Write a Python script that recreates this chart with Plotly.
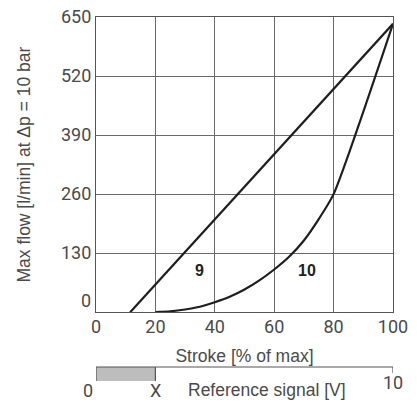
import plotly.graph_objects as go

# ---- data ----
stroke_9 = [11.5, 100]
flow_9 = [0, 635]

stroke_10 = [20, 25, 30, 35, 40, 45, 50, 55, 60, 65, 70, 75, 80, 100]
flow_10 = [0, 2, 6, 12, 22, 34, 50, 70, 94, 122, 158, 205, 260, 635]

x_ticks = [0, 20, 40, 60, 80, 100]
y_ticks = [130, 260, 390, 520, 650]

ref_signal_x = 2      # position of "X" on 0..10 V scale
ref_signal_max = 10

curve_labels = ["9", "10"]
curve_label_x = [35, 71]
curve_label_y = [92, 92]

TICKFONT = "Liberation Sans Narrow, Roboto, sans-serif"
TITLEFONT = "Liberation Sans, Arial, sans-serif"
TFS = 18     # tick label size
HFS = 17.5   # title size
TXT = "#4a4a4a"
GRID = "#6a6a6a"
LINE = "#1e1e1e"

fig = go.Figure()

fig.add_trace(go.Scatter(x=stroke_9, y=flow_9, mode="lines",
                         line=dict(color=LINE, width=2.2), showlegend=False,
                         xaxis="x", yaxis="y"))
fig.add_trace(go.Scatter(x=stroke_10, y=flow_10, mode="lines",
                         line=dict(color=LINE, width=2.2, shape="spline", smoothing=0.6),
                         showlegend=False, xaxis="x", yaxis="y"))

# reference-signal bar
fig.add_trace(go.Bar(x=[ref_signal_x], y=[0.5], base=0, orientation="h", width=1,
                     marker=dict(color="#bdbdbd", line=dict(width=0)),
                     showlegend=False, xaxis="x2", yaxis="y2"))

for t, x, y in zip(curve_labels, curve_label_x, curve_label_y):
    fig.add_annotation(x=x, y=y, xref="x", yref="y", text="<b>%s</b>" % t,
                       showarrow=False, font=dict(family="Liberation Sans", size=16, color="#222"))

# y "0" label, raised slightly above the axis
fig.add_annotation(x=0, y=0, xref="paper", yref="y", text="0", xanchor="right",
                   xshift=-3, yshift=12, showarrow=False,
                   font=dict(family=TICKFONT, size=TFS, color=TXT))

# reference signal axis labels
for txt, xv, ys, xs in [("0", 0, -9, -8), ("X", ref_signal_x, -9, 0), ("10", ref_signal_max, -1, 0)]:
    fig.add_annotation(x=xv, y=0, xref="x2", yref="y2", text=txt, showarrow=False,
                       yanchor="middle", yshift=ys, xshift=xs,
                       font=dict(family=TICKFONT, size=TFS, color=TXT))
fig.add_annotation(x=5.75, y=0, xref="x2", yref="y2", text="Reference signal [V]",
                   showarrow=False, yanchor="middle", yshift=-9,
                   font=dict(family=TITLEFONT, size=HFS, color=TXT))

# ref axis line and ticks
fig.add_shape(type="line", xref="x2", yref="y2 domain", x0=0, x1=ref_signal_max, y0=1, y1=1,
              line=dict(color="#555", width=1.2))
fig.add_shape(type="line", xref="x2", yref="y2 domain", x0=0, x1=0, y0=0, y1=1,
              line=dict(color="#555", width=1.2))
fig.add_shape(type="line", xref="x2", yref="y2 domain", x0=ref_signal_x, x1=ref_signal_x, y0=0, y1=1,
              line=dict(color="#555", width=1.2))
fig.add_shape(type="line", xref="x2", yref="y2 domain", x0=ref_signal_max, x1=ref_signal_max,
              y0=0.57, y1=1, line=dict(color="#555", width=1.2))

fig.update_layout(
    width=409, height=395,
    margin=dict(l=88, r=24, t=9, b=22),
    paper_bgcolor="white", plot_bgcolor="white",
    font=dict(family=TITLEFONT, color=TXT, size=HFS),
    bargap=0,
    xaxis=dict(range=[0, 100], tickvals=x_ticks, showgrid=True, gridcolor=GRID, gridwidth=1,
               showline=True, linecolor="#555", linewidth=1.2, mirror=True, zeroline=False,
               ticks="", ticklabelstandoff=-2, domain=[0, 1], anchor="y", automargin=False,
               ticklabeloverflow="allow",
               title=dict(text="Stroke [% of max]", standoff=13, font=dict(size=HFS)),
               tickfont=dict(family=TICKFONT, size=TFS)),
    yaxis=dict(range=[0, 650], tickvals=y_ticks, showgrid=True, gridcolor=GRID, gridwidth=1,
               showline=True, linecolor="#555", linewidth=1.2, mirror=True, zeroline=False,
               ticks="", ticklabelstandoff=0, domain=[0.189, 1], anchor="x", automargin=False,
               ticklabeloverflow="allow",
               title=dict(text="Max flow [l/min] at Δp = 10 bar", standoff=25, font=dict(size=HFS)),
               tickfont=dict(family=TICKFONT, size=TFS)),
    xaxis2=dict(range=[0, 10], domain=[0, 1], anchor="y2", showgrid=False, showline=False,
                zeroline=False, showticklabels=False, ticks=""),
    yaxis2=dict(range=[0, 1], domain=[0, 0.0384], anchor="x2", showgrid=False, showline=False,
                zeroline=False, showticklabels=False, ticks=""),
)

fig.write_html("out.html")
